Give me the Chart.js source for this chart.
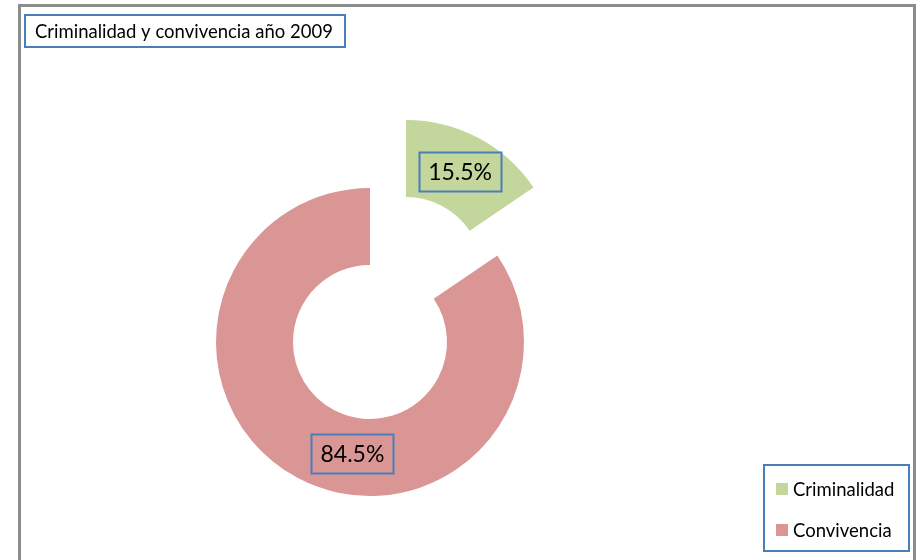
<!DOCTYPE html>
<html>
<head>
<meta charset="utf-8">
<script src="https://cdn.jsdelivr.net/npm/chart.js@4.4.1/dist/chart.umd.min.js"></script>
<style>
  html, body { margin: 0; padding: 0; background: #ffffff; overflow: hidden; }
  #wrap { position: relative; width: 917px; height: 560px; }
</style>
</head>
<body>
<div id="wrap"><canvas id="c" width="917" height="560"></canvas></div>
<script>
// Chart content
const chartTitle = 'Criminalidad y convivencia año 2009';
const categories = ['Criminalidad', 'Convivencia'];
const shares = [15.5, 84.5];
const sliceColors = ['#c3d69b', '#d99694'];

const FONT = 'Lato, "Open Sans", sans-serif';
const BOX_BLUE = '#4a7ebb';

// White background and the grey outer frame
const framePlugin = {
  id: 'frame',
  beforeDraw(chart) {
    const ctx = chart.ctx;
    ctx.save();
    ctx.fillStyle = '#ffffff';
    ctx.fillRect(0, 0, chart.width, chart.height);
    ctx.strokeStyle = '#8c8c8c';
    ctx.lineWidth = 3;
    ctx.strokeRect(19.5, 5.5, 895, chart.height + 20);
    ctx.restore();
  }
};

// Pull the first slice out of the ring along its bisector
const explodePlugin = {
  id: 'explode',
  afterDatasetsUpdate(chart, args, opts) {
    const arcs = chart.getDatasetMeta(0).data;
    (opts.distances || []).forEach((d, i) => {
      const arc = arcs[i];
      if (!arc || !d) return;
      const mid = (arc.startAngle + arc.endAngle) / 2;
      arc.x += Math.cos(mid) * d;
      arc.y += Math.sin(mid) * d;
    });
  }
};

// Boxed percentage labels on each slice
const valueLabelPlugin = {
  id: 'valueLabels',
  afterDatasetsDraw(chart, args, opts) {
    const ctx = chart.ctx;
    const ds = chart.data.datasets[0];
    const arcs = chart.getDatasetMeta(0).data;
    ctx.save();
    ctx.font = opts.font;
    ctx.textAlign = 'center';
    ctx.textBaseline = 'middle';
    arcs.forEach((arc, i) => {
      const override = (opts.angles || [])[i];
      const ang = (override !== null && override !== undefined)
        ? (override - 90) * Math.PI / 180
        : (arc.startAngle + arc.endAngle) / 2;
      const r = (arc.innerRadius + arc.outerRadius) / 2 + ((opts.radiusShift || [])[i] || 0);
      const x = arc.x + Math.cos(ang) * r;
      const y = arc.y + Math.sin(ang) * r;
      const text = ds.data[i].toFixed(1) + '%';
      const w = ctx.measureText(text).width + 2 * opts.padX;
      const h = opts.boxH;
      ctx.strokeStyle = BOX_BLUE;
      ctx.lineWidth = 2;
      ctx.strokeRect(Math.round(x - w / 2) + 0.5, Math.round(y - h / 2) + 0.5, Math.round(w), h);
      ctx.fillStyle = '#000000';
      ctx.fillText(text, x, y + 1);
    });
    ctx.restore();
  }
};

// Title in its bordered box
const titleBoxPlugin = {
  id: 'titleBox',
  afterDraw(chart) {
    const ctx = chart.ctx;
    ctx.save();
    ctx.strokeStyle = BOX_BLUE;
    ctx.lineWidth = 2;
    ctx.strokeRect(25, 15, 320, 32);
    ctx.fillStyle = '#000000';
    ctx.font = '18.5px ' + FONT;
    ctx.textAlign = 'left';
    ctx.textBaseline = 'middle';
    ctx.fillText(chartTitle, 35, 32);
    ctx.restore();
  }
};

// Legend in its bordered box, bottom right
const legendBoxPlugin = {
  id: 'legendBox',
  afterDraw(chart) {
    const ctx = chart.ctx;
    const ds = chart.data.datasets[0];
    ctx.save();
    ctx.strokeStyle = BOX_BLUE;
    ctx.lineWidth = 2;
    ctx.strokeRect(764, 465, 145, 86);
    ctx.font = '18.5px ' + FONT;
    ctx.textAlign = 'left';
    ctx.textBaseline = 'middle';
    chart.data.labels.forEach((lab, i) => {
      const cy = 489 + i * 41;
      ctx.fillStyle = ds.backgroundColor[i];
      ctx.fillRect(776, cy - 6, 12, 12);
      ctx.fillStyle = '#000000';
      ctx.fillText(lab, 793, cy + 1);
    });
    ctx.restore();
  }
};

new Chart(document.getElementById('c'), {
  type: 'doughnut',
  data: {
    labels: categories,
    datasets: [{
      data: shares,
      backgroundColor: sliceColors,
      borderWidth: 0
    }]
  },
  options: {
    responsive: false,
    devicePixelRatio: 1,
    animation: false,
    cutout: '50%',
    rotation: 0,
    layout: { padding: { left: 216, top: 188, right: 393, bottom: 64 } },
    plugins: {
      legend: { display: false },
      title: { display: false },
      tooltip: { enabled: false },
      explode: { distances: [77, 0] },
      valueLabels: {
        font: '23px ' + FONT,
        padX: 9,
        boxH: 39,
        angles: [null, 189],
        radiusShift: [0, -3]
      }
    }
  },
  plugins: [framePlugin, explodePlugin, valueLabelPlugin, titleBoxPlugin, legendBoxPlugin]
});
</script>
</body>
</html>
